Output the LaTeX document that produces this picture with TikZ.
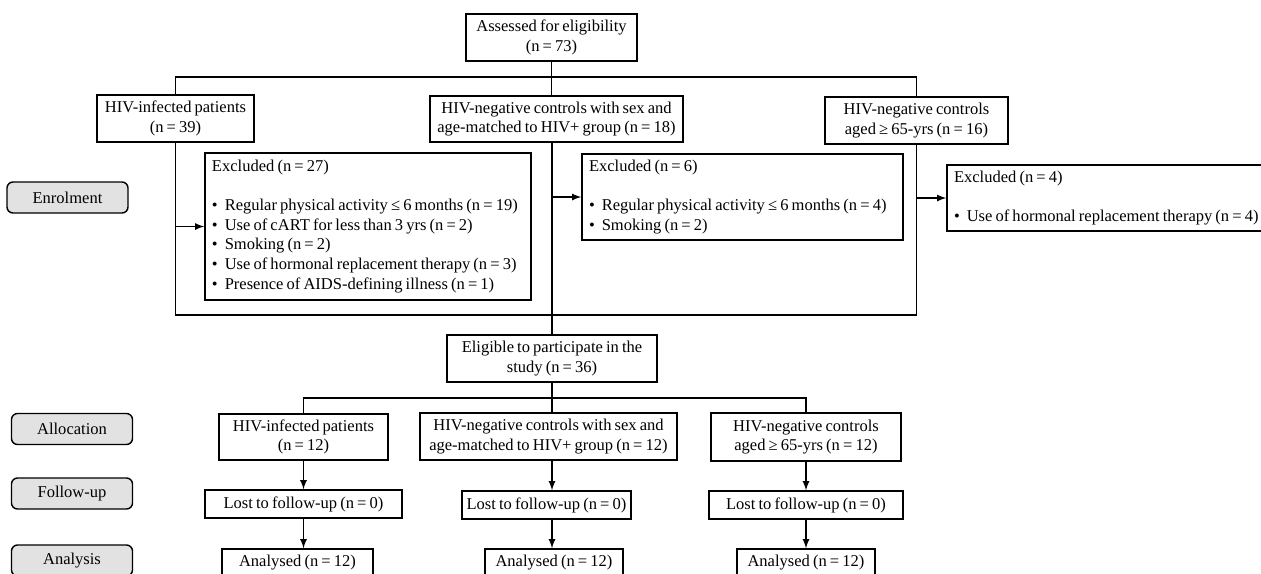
\documentclass[tikz,border=0pt]{standalone}
\usepackage{fontspec}
\setmainfont{Liberation Serif}
\usetikzlibrary{arrows,calc,positioning}
\definecolor{stagegray}{RGB}{226,226,226}
\newcommand{\boxfont}{\fontsize{9.4}{11.2}\selectfont\spaceskip=0.19em plus 0.1em minus 0.05em\relax}
\tikzset{
	box/.style={draw, line width=0.8pt, align=center, inner sep=0pt, font=\boxfont},
	exclbox/.style={draw, line width=0.8pt, align=flush left, inner xsep=1.4mm, inner ysep=0pt, font=\boxfont},
	stage/.style={draw, line width=0.8pt, rounded corners=1.2mm, fill=stagegray, minimum width=24.2mm, minimum height=6.2mm, inner sep=0pt, font=\boxfont},
	link/.style={line width=0.8pt},
	arr/.style={line width=0.8pt, -latex},
}
\newcommand{\itm}{\textbullet\hspace{1.4mm}}

\begin{document}
\begin{tikzpicture}[x=0.2mm, y=-0.2mm]
		\useasboundingbox (0,0) rectangle (1261,573);
		% enrolment
		\node[box, minimum width=34.2mm, minimum height=9.4mm] (assess) at (551.5,37.5) {Assessed for eligibility\\(n = 73)};
		\node[box, minimum width=31.4mm, minimum height=9.4mm] (hivpos) at (175.5,118.5) {HIV-infected patients\\(n = 39)};
		\node[box, minimum width=50.6mm, minimum height=9.2mm] (hivneg) at (556.5,119) {HIV-negative controls with sex and\\age-matched to HIV+ group (n = 18)};
		\node[box, minimum width=36.6mm, minimum height=9.4mm] (hivold) at (916.5,120.5) {HIV-negative controls\\aged ≥ 65-yrs (n = 16)};
		\node[exclbox, text width=62.4mm, minimum height=29.4mm] (excl1) at (368,226.5) {Excluded (n = 27)\\[11pt]
			\itm Regular physical activity ≤ 6 months (n = 19)\\
			\itm Use of cART for less than 3 yrs (n = 2)\\
			\itm Smoking (n = 2)\\
			\itm Use of hormonal replacement therapy (n = 3)\\
			\itm Presence of AIDS-defining illness (n = 1)};
		\node[exclbox, text width=61.4mm, minimum height=17.2mm] (excl2) at (742.5,197) {Excluded (n = 6)\\[11pt]
			\itm Regular physical activity ≤ 6 months (n = 4)\\
			\itm Smoking (n = 2)};
		\node[exclbox, text width=61.8mm, minimum height=13.2mm] (excl3) at (1108.5,198) {Excluded (n = 4)\\[11pt]
			\itm Use of hormonal replacement therapy (n = 4)};
		\node[box, minimum width=42mm, minimum height=9.4mm] (elig) at (552,358.5) {Eligible to participate in the\\study (n = 36)};
		\coordinate (split1) at (552,77);
		\coordinate (join1) at (552,315);
		\draw[link] (assess.south) -- (assess.south |- hivneg.north);
		\draw[link] (hivpos.north) |- (split1) -| (hivold.north);
		\draw[link] (hivpos.south) |- (join1) -| (hivold.south);
		\draw[link] (elig.north |- hivneg.south) -- (elig.north);
		\draw[arr] (excl1.west -| hivpos.south) -- (excl1.west);
		\draw[arr] (excl2.west -| elig.north) -- (excl2.west);
		\draw[arr] (excl3.west -| hivold.south) -- (excl3.west);
		% allocation, follow-up, analysis
		\node[box, minimum width=33.8mm, minimum height=9.2mm] (alloc1) at (303.5,437) {HIV-infected patients\\(n = 12)};
		\node[box, minimum width=51.4mm, minimum height=9.4mm] (alloc2) at (548.5,436.5) {HIV-negative controls with sex and\\age-matched to HIV+ group (n = 12)};
		\node[box, minimum width=38mm, minimum height=9.6mm] (alloc3) at (806,437) {HIV-negative controls\\aged ≥ 65-yrs (n = 12)};
		\node[box, minimum width=39.4mm, minimum height=5.6mm] (follow1) at (303.5,504) {Lost to follow-up (n = 0)};
		\node[box, minimum width=33.8mm, minimum height=5.6mm] (follow2) at (546.5,505) {Lost to follow-up (n = 0)};
		\node[box, minimum width=38.8mm, minimum height=5.6mm] (follow3) at (806,505) {Lost to follow-up (n = 0)};
		\node[box, minimum width=30.2mm, minimum height=5.6mm] (anal1) at (297.5,563) {Analysed (n = 12)};
		\node[box, minimum width=27.6mm, minimum height=5.6mm] (anal2) at (554,563) {Analysed (n = 12)};
		\node[box, minimum width=27.6mm, minimum height=5.6mm] (anal3) at (806,563) {Analysed (n = 12)};
		\coordinate (split2) at (552,398);
		\draw[link] (elig.south) -- (elig.south |- alloc2.north);
		\draw[link] (alloc1.north) |- (split2) -| (alloc3.north);
		\draw[arr] (alloc1.south) -- (alloc1.south |- follow1.north);
		\draw[arr] (elig.south |- alloc2.south) -- (elig.south |- follow2.north);
		\draw[arr] (alloc3.south) -- (alloc3.south |- follow3.north);
		\draw[arr] (follow1.south) -- (follow1.south |- anal1.north);
		\draw[arr] (elig.south |- follow2.south) -- (elig.south |- anal2.north);
		\draw[arr] (follow3.south) -- (follow3.south |- anal3.north);
		% stage labels
		\node[stage] (enrol) at (67.5,197.5) {Enrolment};
		\node[stage] (allocst) at (72,429) {Allocation};
		\node[stage] (followst) at (72,493.5) {Follow-up};
		\node[stage] (analst) at (72,560.5) {Analysis};
		\end{tikzpicture}
\end{document}
